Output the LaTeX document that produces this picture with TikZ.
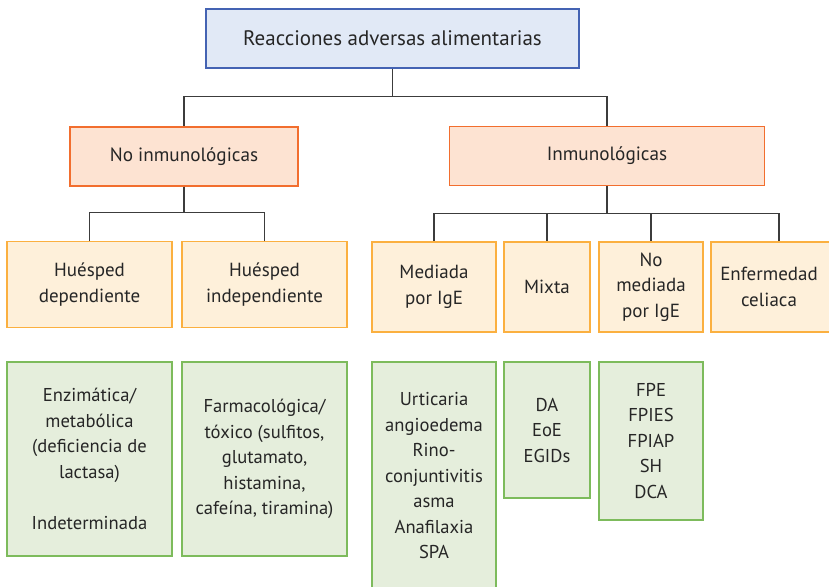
\documentclass[tikz,border=0pt]{standalone}
\usepackage{fontspec}
\setmainfont{PT Sans}
\usetikzlibrary{positioning}

\definecolor{raBlueD}{HTML}{4463B3}
\definecolor{raBlueL}{HTML}{E1E9F6}
\definecolor{raOrD}{HTML}{F26E2E}
\definecolor{raOrL}{HTML}{FDE3D2}
\definecolor{raYeD}{HTML}{FBB040}
\definecolor{raYeL}{HTML}{FEF0DA}
\definecolor{raGrD}{HTML}{7DBB5C}
\definecolor{raGrL}{HTML}{E5EEDC}
\definecolor{raLine}{HTML}{3C3C3C}

\begin{document}
\begin{tikzpicture}[
  x=1pt, y=-1pt,
  every node/.style = {font=\fontsize{18.6}{25.5}\selectfont, text=black!85,
                        align=center, inner sep=2pt},
  root/.style       = {draw=raBlueD, fill=raBlueL, line width=1.5pt,
                        minimum width=373pt, minimum height=59pt,
                        font=\fontsize{21}{25.5}\selectfont},
  grp/.style        = {draw=raOrD, fill=raOrL, line width=1.4pt,
                        minimum height=59pt, font=\fontsize{19.2}{25.5}\selectfont},
  kind/.style       = {draw=raYeD, fill=raYeL, line width=1.4pt,
                        minimum height=86pt, font=\fontsize{19}{25.5}\selectfont},
  expl/.style       = {draw=raGrD, fill=raGrL, line width=1.4pt},
  conn/.style       = {draw=raLine, line width=1.3pt},
]
\useasboundingbox (0,0) rectangle (829,586);

% ── Level 0 ───────────────────────────────────────────────────────────────────
\node[root] (rad) at (392.5, 38.5) {Reacciones adversas alimentarias};

% ── Level 1 ───────────────────────────────────────────────────────────────────
\node[grp, minimum width=228pt] (noinm) at (184, 156.5) {No inmunológicas};
\node[grp, minimum width=315pt] (inm)   at (607, 156)   {Inmunológicas};

% ── Level 2 ───────────────────────────────────────────────────────────────────
\node[kind, minimum width=165pt] (hdep) at (89.5, 284.5)  {Huésped\\dependiente};
\node[kind, minimum width=165pt] (hind) at (264.5, 284.5) {Huésped\\independiente};
\node[kind, minimum width=124pt, minimum height=90pt] (ige)   at (434, 287) {Mediada\\por IgE};
\node[kind, minimum width=86pt,  minimum height=90pt] (mixta) at (547, 287) {Mixta};
\node[kind, minimum width=104pt, minimum height=90pt] (noige) at (651, 287) {No\\mediada\\por IgE};
\node[kind, minimum width=136pt, minimum height=90pt] (celia) at (779, 287) {};
\node[font=\fontsize{19}{25.5}\selectfont] (celiatxt) at (769, 287) {Enfermedad\\celiaca};

% ── Level 3 (examples) ────────────────────────────────────────────────────────
\node[expl, minimum width=165pt, minimum height=194pt] (exdep) at (89.5, 459)
  {Enzimática/\\metabólica\\(deficiencia de\\lactasa)\\[25.5pt]Indeterminada};
\node[expl, minimum width=165pt, minimum height=194pt] (exind) at (264.5, 459)
  {Farmacológica/\\tóxico (sulfitos,\\glutamato,\\histamina,\\cafeína, tiramina)};
\node[expl, minimum width=124pt, minimum height=228pt] (exige) at (434, 476)
  {Urticaria\\angioedema\\Rino-\\conjuntivitis\\asma\\Anafilaxia\\SPA};
\node[expl, minimum width=86pt, minimum height=136pt] (exmix) at (547, 430)
  {DA\\EoE\\EGIDs};
\node[expl, minimum width=104pt, minimum height=158pt] (exnoige) at (651, 441)
  {FPE\\FPIES\\FPIAP\\SH\\DCA};

% ── Connectors ────────────────────────────────────────────────────────────────
\draw[conn] (rad.south) -- ++(0,28) -| (noinm.north);
\draw[conn] (rad.south) -- ++(0,28) -| (inm.north);

\draw[conn] (noinm.south) -- ++(0,26) -| (hdep.north);
\draw[conn] (noinm.south) -- ++(0,26) -| (hind.north);

\draw[conn] (inm.south) -- ++(0,27) -| (ige.north);
\draw[conn] (inm.south) -- ++(0,27) -| (mixta.north);
\draw[conn] (inm.south) -- ++(0,27) -| (noige.north);
\draw[conn] (inm.south) -- ++(0,27) -| (celia.north);

\end{tikzpicture}
\end{document}
